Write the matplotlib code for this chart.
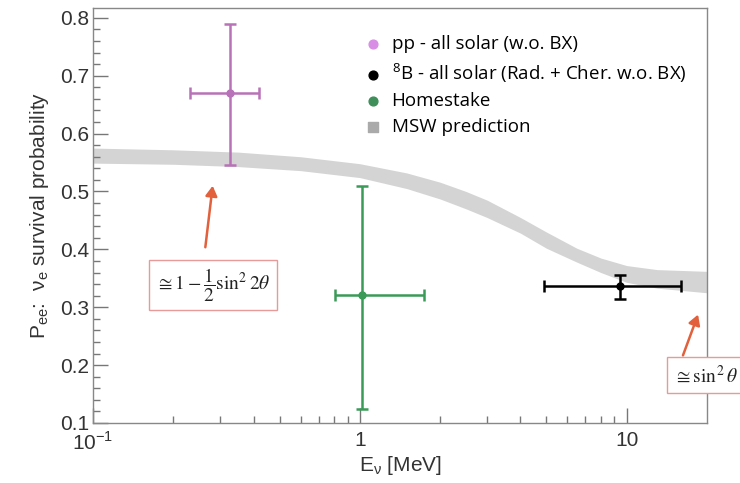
import numpy as np
import matplotlib
matplotlib.use('Agg')
import matplotlib.pyplot as plt
from matplotlib.ticker import FixedLocator, MultipleLocator, NullFormatter

plt.rcParams['font.family'] = ['Liberation Sans', 'DejaVu Sans']
plt.rcParams['mathtext.fontset'] = 'custom'
plt.rcParams['mathtext.rm'] = 'Liberation Sans'

# MSW prediction band
msw_e = [0.1, 0.2, 0.35, 0.6, 1.0, 1.5, 2.0, 2.5, 3.0, 4.0, 5.0, 6.5, 8.0, 10.0, 13.0, 20.0]
msw_hi = [0.575, 0.572, 0.568, 0.560, 0.548, 0.532, 0.516, 0.500, 0.485, 0.455, 0.430, 0.402, 0.385, 0.372, 0.365, 0.362]
msw_lo = [0.549, 0.547, 0.543, 0.536, 0.524, 0.505, 0.487, 0.470, 0.455, 0.428, 0.402, 0.378, 0.360, 0.343, 0.333, 0.325]

# measurements: energy, energy range, Pee, Pee errors
pp_e, pp_e_lo, pp_e_hi = 0.326, 0.23, 0.42
pp_p, pp_p_lo, pp_p_hi = 0.671, 0.545, 0.790

b8_e, b8_e_lo, b8_e_hi = 9.4, 4.9, 16.0
b8_p, b8_p_lo, b8_p_hi = 0.337, 0.314, 0.355

hs_e, hs_e_lo, hs_e_hi = 1.02, 0.81, 1.74
hs_p, hs_p_lo, hs_p_hi = 0.321, 0.125, 0.510

pp_col = '#b872b8'
pp_leg = '#d98ee6'
hs_col = '#3a9a58'
band_col = '#d4d4d4'
arrow_col = '#e2603c'
box_col = '#e89a9a'

fig = plt.figure(figsize=(7.4, 4.83), dpi=100)
ax = fig.add_axes([93 / 740, 1 - 423 / 483, 614 / 740, 415 / 483])

ax.fill_between(msw_e, msw_lo, msw_hi, color=band_col, lw=0, zorder=1)

def point(e, elo, ehi, p, plo, phi, col, cap):
    ax.errorbar([e], [p], xerr=[[e - elo], [ehi - e]], yerr=[[p - plo], [phi - p]],
                fmt='o', color=col, ms=5, elinewidth=1.8, capsize=cap, capthick=1.8, zorder=3)

point(pp_e, pp_e_lo, pp_e_hi, pp_p, pp_p_lo, pp_p_hi, pp_col, 4)
point(hs_e, hs_e_lo, hs_e_hi, hs_p, hs_p_lo, hs_p_hi, hs_col, 4)
point(b8_e, b8_e_lo, b8_e_hi, b8_p, b8_p_lo, b8_p_hi, 'black', 4)

ax.set_xscale('log')
ax.set_xlim(0.1, 20)
ax.set_ylim(0.1, 0.817)

ax.set_xticks([0.1, 1, 10])
ax.set_xticklabels([r'10$^\mathregular{-1}$', '1', '10'])
minor_x = [m * d for d in (0.1, 1) for m in range(2, 10)]
ax.xaxis.set_minor_locator(FixedLocator(minor_x))
ax.xaxis.set_minor_formatter(NullFormatter())
ax.yaxis.set_minor_locator(MultipleLocator(0.02))
ax.set_yticks([0.1, 0.2, 0.3, 0.4, 0.5, 0.6, 0.7, 0.8])
ax.set_yticklabels(['0.1', '0.2', '0.3', '0.4', '0.5', '0.6', '0.7', '0.8'])

ax.tick_params(which='both', direction='in', colors='#777777', labelcolor='#333333',
               labelsize=15, top=False, right=False)
ax.tick_params(which='major', length=11, width=1)
ax.tick_params(which='minor', length=5, width=1)
ax.tick_params(axis='x', pad=6)
ax.tick_params(axis='y', pad=3)
for s in ax.spines.values():
    s.set_color('#888888')
    s.set_linewidth(1)

ax.set_xlabel(r'E$_\mathregular{ν}$ [MeV]', fontsize=15, color='#333333', labelpad=0)
ax.set_ylabel(r'P$_\mathregular{ee}$:  ν$_\mathregular{e}$ survival probability', fontsize=15,
              color='#333333', labelpad=6)

# legend
h1 = ax.scatter([], [], s=40, color=pp_leg)
h2 = ax.scatter([], [], s=40, color='black')
h3 = ax.scatter([], [], s=40, color='#3f8f5a')
h4 = ax.scatter([], [], s=45, marker='s', color='#aaaaaa')
leg = ax.legend([h1, h2, h3, h4],
                ['pp - all solar (w.o. BX)', r'$^\mathregular{8}$B - all solar (Rad. + Cher. w.o. BX)',
                 'Homestake', 'MSW prediction'],
                loc='upper left', bbox_to_anchor=(354 / 740, 1 - 26 / 483),
                bbox_transform=fig.transFigure, frameon=False,
                prop={'family': 'Open Sans', 'size': 13.5}, handletextpad=0.5, labelspacing=0.4,
                borderpad=0, handlelength=1.0)

# annotations
plt.rcParams['mathtext.fontset'] = 'stix'
ann_kw = dict(fontsize=14, family='Liberation Serif', color='#222222', ha='center', va='center',
              bbox=dict(boxstyle='square,pad=0.35', fc='white', ec=box_col, lw=1))
fig.text(213 / 740, 1 - 285 / 483, r'$\cong 1-\dfrac{1}{2}\sin^2 2\theta$', **ann_kw)
fig.text(706 / 740, 1 - 375 / 483, r'$\cong \sin^2\theta$', **ann_kw)

for tail, tip in [((205, 250), (213, 183)), ((682, 358), (699, 312))]:
    fig.patches.append(matplotlib.patches.FancyArrowPatch(
        (tail[0] / 740, 1 - tail[1] / 483), (tip[0] / 740, 1 - tip[1] / 483),
        transform=fig.transFigure, arrowstyle='-|>,head_length=6,head_width=3.5',
        color=arrow_col, lw=1.8, mutation_scale=1))

fig.savefig('out.png', dpi=100)
